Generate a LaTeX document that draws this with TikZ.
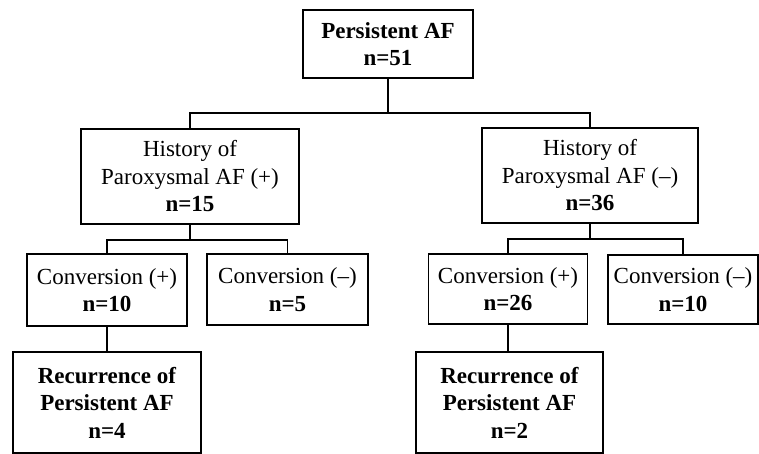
\documentclass[tikz,border=0pt]{standalone}
\usepackage{fontspec}
\setmainfont{Liberation Serif}
\begin{document}
\begin{tikzpicture}[x=1pt,y=-1pt,
  box/.style={draw,line width=1.6pt,inner sep=0pt,align=center,
    font=\fontsize{23}{27.5}\selectfont},
  link/.style={line width=1.6pt}]
\useasboundingbox (0,0) rectangle (759,454);
\node[box,minimum width=170pt,minimum height=68pt] (top) at (388,44)
  {\textbf{Persistent AF}\\\textbf{n=51}};
\node[box,minimum width=218pt,minimum height=95pt] (hL) at (190,176.5)
  {History of\\Paroxysmal AF (+)\\\textbf{n=15}};
\node[box,minimum width=216pt,minimum height=95pt] (hR) at (590,175.5)
  {History of\\Paroxysmal AF (–)\\\textbf{n=36}};
\node[box,minimum width=160pt,minimum height=72pt] (cLp) at (107,290)
  {Conversion (+)\\\textbf{n=10}};
\node[box,minimum width=161pt,minimum height=71pt] (cLm) at (287.5,289.5)
  {Conversion (–)\\\textbf{n=5}};
\node[box,minimum width=159pt,minimum height=70pt] (cRp) at (508,289)
  {Conversion (+)\\\textbf{n=26}};
\node[box,minimum width=150pt,minimum height=69pt] (cRm) at (683,289.5)
  {Conversion (–)\\\textbf{n=10}};
\node[box,minimum width=188pt,minimum height=101pt] (rL) at (107,402.5)
  {\textbf{Recurrence of}\\\textbf{Persistent AF}\\\textbf{n=4}};
\node[box,minimum width=187pt,minimum height=101pt] (rR) at (509.5,402.5)
  {\textbf{Recurrence of}\\\textbf{Persistent AF}\\\textbf{n=2}};
\coordinate (bus1) at (388,113);
\coordinate (bus2) at (190,240);
\coordinate (bus3) at (590,239);
\draw[link] (top.south) -- (bus1);
\draw[link] (hL.north) |- (bus1);
\draw[link] (hR.north) |- (bus1);
\draw[link] (hL.south) -- (bus2);
\draw[link] (cLp.north) |- (bus2);
\draw[link] (cLm.north) |- (bus2);
\draw[link] (hR.south) -- (bus3);
\draw[link] (cRp.north) |- (bus3);
\draw[link] (cRm.north) |- (bus3);
\draw[link] (cLp.south) -- (rL.north);
\draw[link] (cRp.south) -- (cRp.south |- rR.north);
\end{tikzpicture}
\end{document}
